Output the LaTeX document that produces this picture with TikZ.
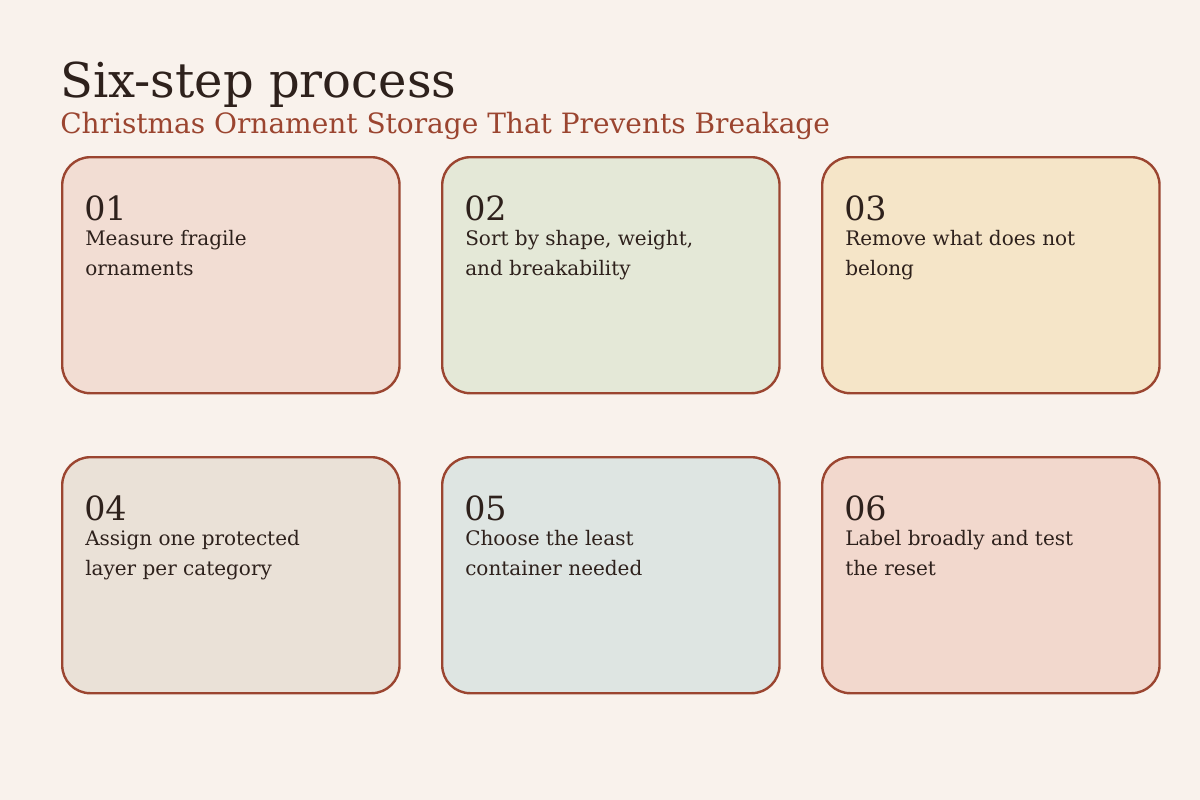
\documentclass[tikz,border=0pt]{standalone}
\usepackage{fontspec}
\setmainfont{DejaVu Serif}
\usetikzlibrary{calc}
\definecolor{bg}{HTML}{F9F2EC}
\definecolor{ink}{HTML}{2E211C}
\definecolor{rust}{HTML}{9B4530}
\definecolor{fa}{HTML}{F2DDD3}
\definecolor{fb}{HTML}{E4E8D7}
\definecolor{fc}{HTML}{F5E5C8}
\definecolor{fd}{HTML}{EAE1D7}
\definecolor{fe}{HTML}{DEE5E2}
\definecolor{ff}{HTML}{F2D8CD}
\tikzset{
  card/.style={draw=rust, line width=1.8pt, rounded corners=21pt, minimum width=253pt, minimum height=177pt, inner sep=0pt, anchor=north west},
  numtext/.style={anchor=base west, inner sep=0pt, text=ink, font=\fontsize{25}{28}\selectfont},
  bodytext/.style={anchor=north west, inner sep=0pt, text=ink, align=left, font=\fontsize{15}{22.5}\selectfont},
}
\begin{document}
\begin{tikzpicture}[x=0.75pt,y=-0.75pt]
\fill[bg] (0,0) rectangle (1200,800);
\useasboundingbox (0,0) rectangle (1200,800);
\node[anchor=base west, inner sep=0pt, text=ink, font=\fontsize{36}{40}\selectfont] (title) at (60,97) {Six-step process};
\node[anchor=base west, inner sep=0pt, text=rust, font=\fontsize{21}{26}\selectfont] (sub) at (60,133) {Christmas Ornament Storage That Prevents Breakage};
\node[card, fill=fa] (b1) at (61,156) {};
\node[card, fill=fb] (b2) at (441,156) {};
\node[card, fill=fc] (b3) at (821,156) {};
\node[card, fill=fd] (b4) at (61,456) {};
\node[card, fill=fe] (b5) at (441,456) {};
\node[card, fill=ff] (b6) at (821,456) {};
\foreach \b/\n/\t in {b1/01/{Measure fragile\\ornaments},b2/02/{Sort by shape, weight,\\and breakability},b3/03/{Remove what does not\\belong},b4/04/{Assign one protected\\layer per category},b5/05/{Choose the least\\container needed},b6/06/{Label broadly and test\\the reset}}{
  \node[numtext] (\b n) at ($(\b.north west)+(23,64)$) {\n};
  \node[bodytext] (\b t) at ($(\b.north west)+(24,74)$) {\t};
}
\end{tikzpicture}
\end{document}
